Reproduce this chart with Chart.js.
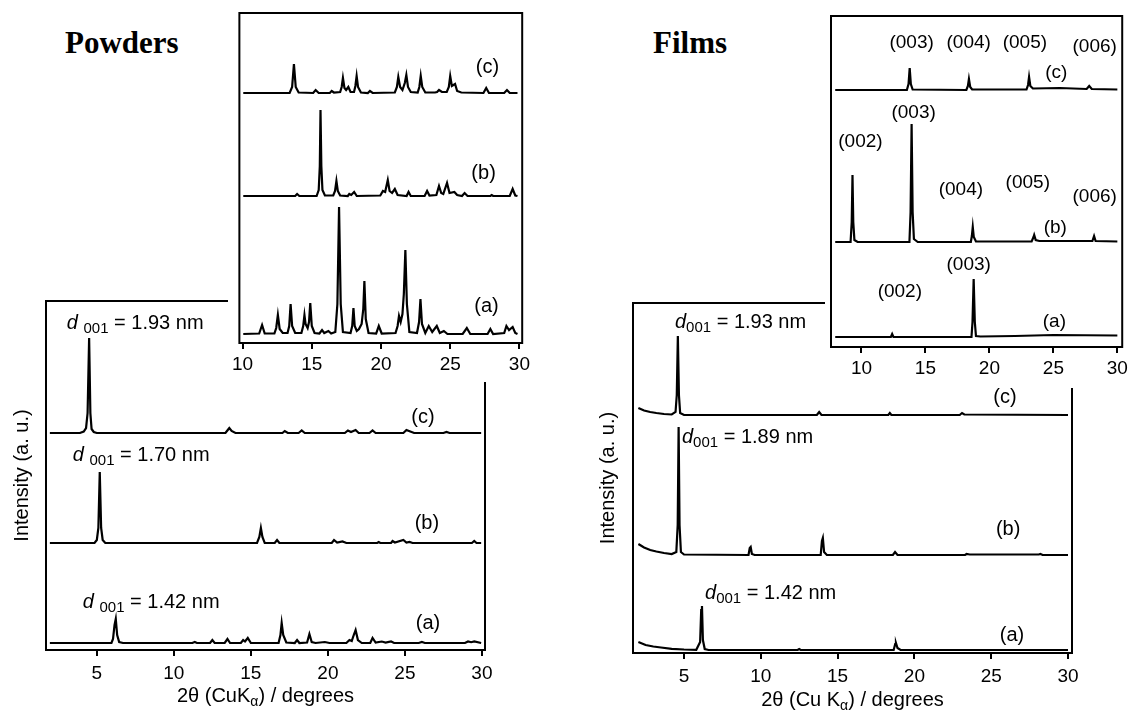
<!DOCTYPE html>
<html>
<head>
<meta charset="utf-8">
<script src="https://cdn.jsdelivr.net/npm/chart.js@4.4.1/dist/chart.umd.min.js"></script>
<style>
  html, body { margin: 0; padding: 0; background: #fff; }
  body { width: 1132px; height: 710px; position: relative; overflow: hidden; }
  canvas { position: absolute; }
  .panel-title { position: absolute; font: bold 31px "Liberation Serif", "Times New Roman", serif; line-height: 31px; color: #000; }
</style>
</head>
<body>
<div class="panel-title" style="left:65px; top:27px">Powders</div>
<div class="panel-title" style="left:653px; top:27px">Films</div>
<canvas id="powMain" width="500" height="420" style="left:0; top:290px"></canvas>
<canvas id="powInset" width="306" height="382" style="left:228px; top:0; background:#fff"></canvas>
<canvas id="filmMain" width="510" height="420" style="left:580px; top:290px"></canvas>
<canvas id="filmInset" width="307" height="388" style="left:825px; top:0; background:#fff"></canvas>
<script>
const SANS = '"Liberation Sans", Arial, sans-serif';

// tick labels
const mainTicks = [5, 10, 15, 20, 25, 30];
const insetTicks = [10, 15, 20, 25, 30];

// every trace: [2θ / degrees, intensity above its own baseline (a. u.)]
// ---- Powders, main panel
const powMainA = [[1.95,0],[5.95,0],[6.05,4],[6.15,18],[6.23,24],[6.32,8],[6.45,1],[6.7,0],[11.2,0],[11.36,1],[11.5,0],[12.35,0],[12.5,3],[12.65,0],[13.3,0],[13.48,4],[13.65,0],[14.35,0],[14.5,3],[14.62,1.5],[14.8,5],[15.0,0],[16.8,0],[16.92,8],[17.0,20],[17.1,8],[17.3,0.5],[17.85,0],[18.0,3],[18.15,0],[18.65,0.5],[18.8,9],[18.95,1],[19.2,0],[19.8,1],[20.1,0],[21.2,0],[21.4,3],[21.55,2],[21.68,8],[21.8,13],[21.95,3],[22.2,0],[22.75,0],[22.9,5],[23.1,0.5],[23.5,1.5],[23.75,0.5],[24.1,1.5],[24.3,0],[25.9,0],[26.1,1],[26.3,0],[28.9,0],[29.1,1.5],[29.3,0.8],[29.5,1.5],[29.95,0]];
const powMainB = [[1.95,0],[4.85,0],[5.0,3],[5.1,15],[5.19,71],[5.28,15],[5.38,3],[5.55,0],[15.4,0],[15.55,6],[15.65,15],[15.75,6],[15.9,0],[16.55,0],[16.7,3],[16.85,0],[20.25,0],[20.4,3],[20.6,0.5],[20.95,1.5],[21.2,0],[23.2,0],[23.3,1],[23.4,0],[24.1,0],[24.2,2],[24.35,0.5],[24.9,3],[25.1,0.5],[25.3,1],[25.5,0],[29.35,0],[29.5,2],[29.65,0],[29.95,0]];
const powMainC = [[1.95,0],[3.9,0],[4.15,1.5],[4.3,5],[4.4,20],[4.5,95],[4.58,20],[4.66,4],[4.8,1],[5.0,0],[13.35,0],[13.5,3],[13.6,5],[13.75,2],[14.0,0],[17.05,0],[17.2,2],[17.4,0],[18.1,0],[18.3,2.5],[18.5,0],[21.1,0],[21.3,2.5],[21.5,1],[21.8,3],[22.0,0],[22.7,0],[22.9,2.5],[23.1,0],[24.9,0],[25.1,3],[25.35,1.5],[25.6,0],[27.5,0],[27.7,1],[27.9,0],[29.95,0]];
const powMainBaselines = [7, 107, 217];

// ---- Powders, inset
const powInsetA = [[10.05,0],[11.2,0.5],[11.41,9],[11.6,0.5],[12.3,0.5],[12.43,6],[12.55,19],[12.68,5],[12.9,1],[13.25,1],[13.37,8],[13.47,30],[13.58,8],[13.8,1],[14.25,1],[14.38,8],[14.47,19],[14.55,10],[14.7,6],[14.8,12],[14.89,31],[15.0,8],[15.2,1],[15.55,0.5],[15.74,4],[15.9,1],[16.2,3],[16.4,0.5],[16.7,2],[16.85,30],[16.97,127],[17.09,30],[17.25,2],[17.8,1],[17.92,8],[18.01,26],[18.1,8],[18.25,3],[18.41,5],[18.6,10],[18.72,25],[18.8,53],[18.9,15],[19.1,1],[19.65,0.5],[19.84,8],[20.05,0.5],[21.05,1],[21.2,8],[21.3,18],[21.42,12],[21.55,20],[21.65,40],[21.76,84],[21.87,30],[22.05,2],[22.6,1],[22.75,12],[22.85,35],[22.96,10],[23.2,1],[23.45,8],[23.7,2],[24.03,8],[24.25,1],[24.54,3],[24.8,0],[25.9,0],[26.2,6],[26.45,0],[27.7,0],[27.9,5],[28.1,0],[28.9,1],[29.06,8],[29.25,4],[29.51,7],[29.7,1],[29.86,0]];
const powInsetB = [[10.05,0],[13.8,0],[13.94,2],[14.1,0],[15.35,0],[15.5,6],[15.58,30],[15.63,86],[15.69,30],[15.77,6],[15.95,0.5],[16.55,0.5],[16.68,5],[16.78,15],[16.88,5],[17.05,0.5],[17.6,0],[17.71,2],[17.85,1],[18.06,4],[18.25,0],[19.95,0.5],[20.14,5],[20.3,4],[20.49,16],[20.62,5],[20.8,3],[21.0,7],[21.2,1],[21.85,0],[21.99,4],[22.15,0],[23.15,0],[23.33,5],[23.5,0.5],[24.0,1],[24.19,10],[24.35,3],[24.5,2],[24.77,13],[24.95,3],[25.3,4],[25.5,1],[25.85,0],[26.04,3],[26.25,0],[27.9,0],[28.0,1],[28.1,0],[29.3,0],[29.51,7],[29.7,0.5],[29.86,0]];
const powInsetC = [[10.05,0],[13.4,0],[13.58,6],[13.71,29],[13.84,6],[14.05,0.5],[15.1,0],[15.28,3],[15.5,0],[16.3,0],[16.44,2],[16.6,0.5],[17.05,1],[17.16,6],[17.25,15],[17.36,5],[17.48,3],[17.64,6],[17.8,1],[18.05,1],[18.15,7],[18.24,17],[18.34,6],[18.55,0.5],[19.05,0],[19.2,2],[19.4,0],[21.0,0.5],[21.15,6],[21.25,16],[21.38,6],[21.55,3],[21.72,10],[21.83,18],[21.95,6],[22.15,1],[22.65,0.5],[22.77,6],[22.87,17],[22.98,6],[23.2,0.5],[23.9,0.5],[24.05,1],[24.19,3],[24.4,1],[24.75,1],[24.9,6],[25.0,17],[25.12,7],[25.35,9],[25.5,2],[25.8,0.5],[27.4,0],[27.6,5],[27.8,0],[28.9,0],[29.1,3],[29.3,0],[29.86,0]];
const powInsetBaselines = [9, 147, 250];

// ---- Films, main panel
const filmMainA = [[2.03,8],[2.5,5],[3.0,3.5],[3.5,2.5],[4.2,1.2],[5.0,0.5],[5.8,0.2],[6.05,8],[6.12,40],[6.17,44],[6.23,10],[6.35,1],[6.6,0],[12.4,0],[12.5,1],[12.6,0],[18.65,0],[18.75,6],[18.8,7],[18.9,2],[19.1,0],[30,0]];
const filmMainB = [[2.03,11],[2.4,7.5],[2.8,5],[3.2,3.5],[3.7,2],[4.2,1],[4.5,3],[4.59,30],[4.65,128],[4.71,30],[4.8,3],[5.0,0.5],[9.2,0],[9.28,7],[9.34,8],[9.42,1],[9.6,0],[13.9,0],[13.98,14],[14.04,17],[14.12,3],[14.3,0],[18.6,0],[18.74,3],[18.9,0],[23.3,0],[23.4,1],[23.6,0.5],[28.1,0.5],[28.2,1],[28.35,0],[30,0]];
const filmMainC = [[2.03,7],[2.4,4.5],[2.8,3],[3.2,2],[3.7,1],[4.2,0.5],[4.45,3],[4.53,20],[4.6,79],[4.67,20],[4.75,2],[5.0,0],[13.65,0],[13.8,3],[13.95,0],[18.3,0],[18.4,2],[18.5,0],[22.95,0],[23.1,2],[23.25,0.5],[30,0]];
const filmMainBaselines = [3, 98, 238];

// ---- Films, inset
const filmInsetA = [[7.95,0],[12.3,0],[12.4,3],[12.5,0],[18.6,0],[18.68,15],[18.77,58],[18.86,15],[18.95,1],[19.3,0.5],[22,1],[25,2],[30,1.5]];
const filmInsetB = [[7.95,0],[9.15,0],[9.24,20],[9.3,67],[9.36,20],[9.45,2],[9.7,0],[13.75,0],[13.84,30],[13.92,118],[14.0,30],[14.1,3],[14.4,0],[18.55,0],[18.63,6],[18.7,15],[18.78,5],[18.95,0.5],[23.3,0.5],[23.45,5],[23.5,7],[23.62,2],[23.9,1],[26,1],[28.05,1],[28.18,6],[28.3,1],[30,0.5]];
const filmInsetC = [[7.95,0],[13.55,0],[13.68,6],[13.77,22],[13.86,6],[14.0,0.5],[18.2,0],[18.32,4],[18.4,11],[18.5,3],[18.65,0.5],[22.9,0.5],[23.02,5],[23.1,13],[23.2,4],[23.4,1.5],[25.5,2],[27.6,1],[27.8,4],[28.0,1],[30,0.5]];
const filmInsetBaselines = [10, 105, 257];

// text helpers: parts = [text, size, italic, drop]
const d001 = (v, gap) => [['d', 20, true], [gap, 20], ['001', 15, false, 6], [' = ' + v + ' nm', 20]];
const tag = (t) => [[t, 20]];
const hkl = (t) => [[t, 19]];
const xTitlePow = [['2\u03b8 (CuK', 20], ['\u03b1', 14, false, 6], [') / degrees', 20]];
const xTitleFilm = [['2\u03b8 (Cu K', 20], ['\u03b1', 14, false, 6], [') / degrees', 20]];
const yTitle = [['Intensity (a. u.)', 20]];

function drawRich(ctx, parts, x, y, align, rot) {
  ctx.save();
  ctx.translate(x, y);
  if (rot) ctx.rotate(rot);
  ctx.textBaseline = 'middle';
  ctx.textAlign = 'left';
  ctx.fillStyle = '#000';
  const font = p => (p[2] ? 'italic ' : '') + p[1] + 'px ' + SANS;
  let w = 0;
  parts.forEach(p => { ctx.font = font(p); w += ctx.measureText(p[0]).width; });
  let cx = align === 'center' ? -w / 2 : 0;
  parts.forEach(p => {
    ctx.font = font(p);
    ctx.fillText(p[0], cx, p[3] || 0);
    cx += ctx.measureText(p[0]).width;
  });
  ctx.restore();
}

// annotations per canvas (anchored in data units)
const notes = {
  powMain: {
    xTitle: xTitlePow, xGap: 46, yGap: 24,
    items: [
      { x: 3.05, y: 327, parts: d001('1.93', ' '), align: 'left' },
      { x: 3.44, y: 195, parts: d001('1.70', ' '), align: 'left' },
      { x: 4.09, y: 48, parts: d001('1.42', ' '), align: 'left' },
      { x: 26.17, y: 233, parts: tag('(c)') },
      { x: 26.43, y: 127, parts: tag('(b)') },
      { x: 26.5, y: 27, parts: tag('(a)') },
    ]
  },
  powInset: {
    items: [
      { x: 27.69, y: 276, parts: tag('(c)') },
      { x: 27.41, y: 170, parts: tag('(b)') },
      { x: 27.62, y: 37, parts: tag('(a)') },
    ]
  },
  filmMain: {
    xTitle: xTitleFilm, xGap: 47, yGap: 25,
    items: [
      { x: 4.41, y: 331, parts: d001('1.93', ''), align: 'left' },
      { x: 4.87, y: 216, parts: d001('1.89', ''), align: 'left' },
      { x: 6.37, y: 60, parts: d001('1.42', ''), align: 'left' },
      { x: 25.9, y: 256, parts: tag('(c)') },
      { x: 26.1, y: 124, parts: tag('(b)') },
      { x: 26.35, y: 18, parts: tag('(a)') },
    ]
  },
  filmInset: {
    items: [
      { x: 13.92, y: 304, parts: hkl('(003)') },
      { x: 18.38, y: 304, parts: hkl('(004)') },
      { x: 22.77, y: 304, parts: hkl('(005)') },
      { x: 28.23, y: 300, parts: hkl('(006)') },
      { x: 25.23, y: 274, parts: hkl('(c)') },
      { x: 9.92, y: 205, parts: hkl('(002)') },
      { x: 14.08, y: 234, parts: hkl('(003)') },
      { x: 17.77, y: 157, parts: hkl('(004)') },
      { x: 23.0, y: 164, parts: hkl('(005)') },
      { x: 28.23, y: 150, parts: hkl('(006)') },
      { x: 25.15, y: 119, parts: hkl('(b)') },
      { x: 13.0, y: 55, parts: hkl('(002)') },
      { x: 18.38, y: 82, parts: hkl('(003)') },
      { x: 25.08, y: 25, parts: hkl('(a)') },
    ]
  }
};

const decor = {
  id: 'decor',
  afterDatasetsDraw(chart) {
    const { ctx, chartArea: a, scales: { x, y } } = chart;
    const n = notes[chart.canvas.id];
    ctx.save();
    ctx.lineWidth = 2;
    ctx.strokeStyle = '#000';
    ctx.strokeRect(a.left, a.top, a.right - a.left, a.bottom - a.top);
    n.items.forEach(it => drawRich(ctx, it.parts, x.getPixelForValue(it.x), y.getPixelForValue(it.y), it.align || 'center'));
    if (n.xTitle) {
      drawRich(ctx, n.xTitle, (a.left + a.right) / 2, a.bottom + n.xGap, 'center');
      drawRich(ctx, yTitle, a.left - n.yGap, (a.top + a.bottom) / 2, 'center', -Math.PI / 2);
    }
    ctx.restore();
  }
};

function trace(points, base) {
  return {
    data: points.map(([x, v]) => ({ x, y: v + base })),
    borderColor: '#000', borderWidth: 2.2, pointRadius: 0, tension: 0, fill: false
  };
}

function xrdChart(id, o) {
  return new Chart(document.getElementById(id), {
    type: 'line',
    data: { datasets: o.series.map((s, i) => trace(s, o.bases[i])) },
    options: {
      responsive: false, animation: false, devicePixelRatio: 1,
      layout: { padding: o.pad },
      plugins: { legend: { display: false }, tooltip: { enabled: false } },
      scales: {
        x: {
          type: 'linear', min: o.xMin, max: o.xMax,
          afterFit: s => { s.height = o.xh; },
          afterBuildTicks: s => { s.ticks = o.ticks.map(v => ({ value: v })); },
          grid: { drawOnChartArea: false, drawTicks: true, tickLength: 6, color: '#000', lineWidth: 2 },
          border: { display: false },
          ticks: { color: '#000', font: { family: SANS, size: 19 }, padding: o.tickPad, maxRotation: 0, autoSkip: false }
        },
        y: { display: false, min: 0, max: o.yMax }
      }
    },
    plugins: [decor]
  });
}

xrdChart('powMain', {
  series: [powMainA, powMainB, powMainC], bases: powMainBaselines, ticks: mainTicks,
  xMin: 1.7, xMax: 30.2, yMax: 349, xh: 60, tickPad: 6,
  pad: { left: 46, right: 15, top: 11, bottom: 0 }
});
xrdChart('powInset', {
  series: [powInsetA, powInsetB, powInsetC], bases: powInsetBaselines, ticks: insetTicks,
  xMin: 9.77, xMax: 30.2, yMax: 330, xh: 39, tickPad: 4,
  pad: { left: 6, right: 6, top: 13, bottom: 0 }
});
xrdChart('filmMain', {
  series: [filmMainA, filmMainB, filmMainC], bases: filmMainBaselines, ticks: mainTicks,
  xMin: 1.68, xMax: 30.26, yMax: 350, xh: 57, tickPad: 6,
  pad: { left: 53, right: 18, top: 13, bottom: 0 }
});
xrdChart('filmInset', {
  series: [filmInsetA, filmInsetB, filmInsetC], bases: filmInsetBaselines, ticks: insetTicks,
  xMin: 7.62, xMax: 30.38, yMax: 331, xh: 41, tickPad: 4,
  pad: { left: 6, right: 5, top: 16, bottom: 0 }
});
</script>
</body>
</html>
